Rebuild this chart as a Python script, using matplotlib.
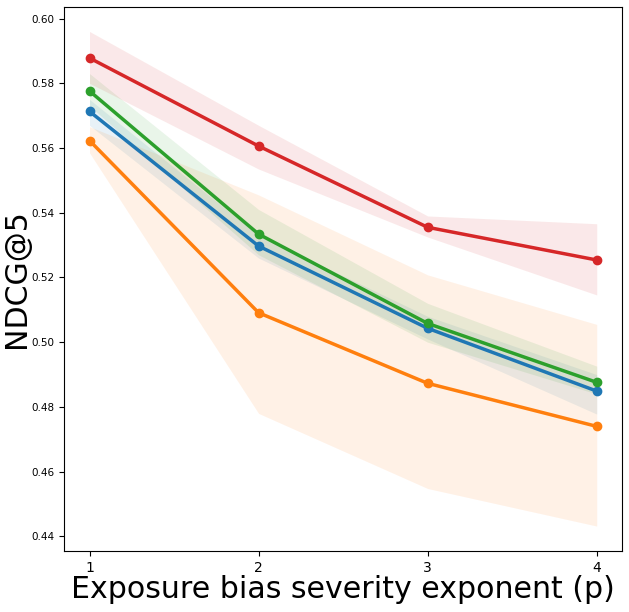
import numpy as np
import matplotlib.pyplot as plt

p = [1, 2, 3, 4]

# mean NDCG@5 and band edges for each method
blue = [0.5713, 0.5297, 0.5043, 0.4849]
blue_lo = [0.5670, 0.5260, 0.5010, 0.4778]
blue_hi = [0.5750, 0.5330, 0.5080, 0.4900]

orange = [0.5623, 0.5091, 0.4873, 0.4740]
orange_lo = [0.5585, 0.4780, 0.4548, 0.4432]
orange_hi = [0.5666, 0.5455, 0.5208, 0.5055]

green = [0.5776, 0.5334, 0.5058, 0.4876]
green_lo = [0.5730, 0.5270, 0.5000, 0.4840]
green_hi = [0.5830, 0.5410, 0.5120, 0.4926]

red = [0.5878, 0.5606, 0.5355, 0.5254]
red_lo = [0.5800, 0.5535, 0.5325, 0.5146]
red_hi = [0.5960, 0.5670, 0.5390, 0.5366]

fig, ax = plt.subplots(figsize=(6.29, 6.12), dpi=100)

series = [(blue, blue_lo, blue_hi, "tab:blue"),
          (orange, orange_lo, orange_hi, "tab:orange"),
          (green, green_lo, green_hi, "tab:green"),
          (red, red_lo, red_hi, "tab:red")]

for m, lo, hi, c in series:
    ax.fill_between(p, lo, hi, color=c, alpha=0.1, linewidth=0)
    ax.plot(p, m, color=c, linewidth=2.5, marker="o", markersize=6)

ax.set_xticks(p)
ax.tick_params(axis="x", labelsize=10)
ax.tick_params(axis="y", labelsize=7.5)
ax.set_xlabel("Exposure bias severity exponent (p)", fontsize=21.6, labelpad=0)
ax.set_ylabel("NDCG@5", fontsize=21.6, labelpad=0)

plt.subplots_adjust(left=0.102, right=0.989, top=0.989, bottom=0.1)
plt.savefig("out.png")
